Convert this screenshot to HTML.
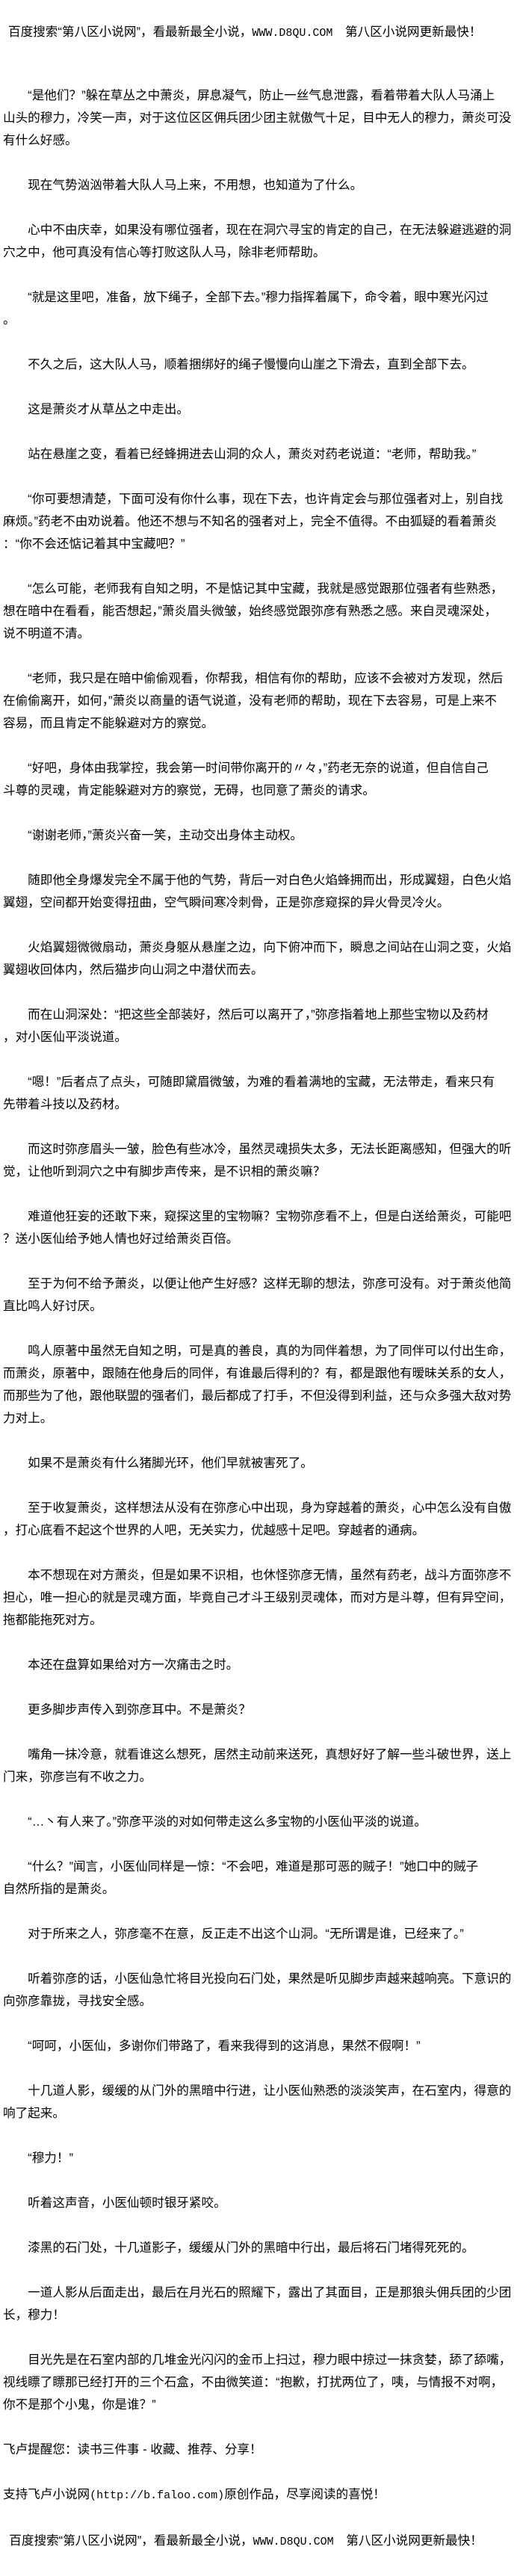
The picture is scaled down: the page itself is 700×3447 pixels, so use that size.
<!DOCTYPE html>
<html>
<head>
<meta charset="utf-8">
<style>
html,body{margin:0;padding:0;background:#fff;}
body{width:700px;height:3440px;position:relative;overflow:hidden;color:#000;
font-family:"Liberation Sans","Noto Sans CJK SC",sans-serif;font-size:16.6px;}
#hdr{position:absolute;top:28px;left:11px;line-height:30px;white-space:nowrap;}
#main{position:absolute;top:113px;left:4px;width:696px;}
p{margin:0 0 30px 0;line-height:30px;white-space:nowrap;}
.m{font-family:"Liberation Mono",monospace;font-size:15px;}
</style>
</head>
<body>
<div id="hdr">百度搜索“第八区小说网”，看最新最全小说，<span class="m">WWW.D8QU.COM</span>　第八区小说网更新最快！</div>
<div id="main">
<p>　　“是他们？”躲在草丛之中萧炎，屏息凝气，防止一丝气息泄露，看着带着大队人马涌上<br>山头的穆力，冷笑一声，对于这位区区佣兵团少团主就傲气十足，目中无人的穆力，萧炎可没<br>有什么好感。</p>
<p>　　现在气势汹汹带着大队人马上来，不用想，也知道为了什么。</p>
<p>　　心中不由庆幸，如果没有哪位强者，现在在洞穴寻宝的肯定的自己，在无法躲避逃避的洞<br>穴之中，他可真没有信心等打败这队人马，除非老师帮助。</p>
<p>　　“就是这里吧，准备，放下绳子，全部下去。”穆力指挥着属下，命令着，眼中寒光闪过<br>。</p>
<p>　　不久之后，这大队人马，顺着捆绑好的绳子慢慢向山崖之下滑去，直到全部下去。</p>
<p>　　这是萧炎才从草丛之中走出。</p>
<p>　　站在悬崖之变，看着已经蜂拥进去山洞的众人，萧炎对药老说道：“老师，帮助我。”</p>
<p>　　“你可要想清楚，下面可没有你什么事，现在下去，也许肯定会与那位强者对上，别自找<br>麻烦。”药老不由劝说着。他还不想与不知名的强者对上，完全不值得。不由狐疑的看着萧炎<br>：“你不会还惦记着其中宝藏吧？”</p>
<p>　　“怎么可能，老师我有自知之明，不是惦记其中宝藏，我就是感觉跟那位强者有些熟悉，<br>想在暗中在看看，能否想起，”萧炎眉头微皱，始终感觉跟弥彦有熟悉之感。来自灵魂深处，<br>说不明道不清。</p>
<p>　　“老师，我只是在暗中偷偷观看，你帮我，相信有你的帮助，应该不会被对方发现，然后<br>在偷偷离开，如何，”萧炎以商量的语气说道，没有老师的帮助，现在下去容易，可是上来不<br>容易，而且肯定不能躲避对方的察觉。</p>
<p>　　“好吧，身体由我掌控，我会第一时间带你离开的〃々，”药老无奈的说道，但自信自己<br>斗尊的灵魂，肯定能躲避对方的察觉，无碍，也同意了萧炎的请求。</p>
<p>　　“谢谢老师，”萧炎兴奋一笑，主动交出身体主动权。</p>
<p>　　随即他全身爆发完全不属于他的气势，背后一对白色火焰蜂拥而出，形成翼翅，白色火焰<br>翼翅，空间都开始变得扭曲，空气瞬间寒冷刺骨，正是弥彦窥探的异火骨灵冷火。</p>
<p>　　火焰翼翅微微扇动，萧炎身躯从悬崖之边，向下俯冲而下，瞬息之间站在山洞之变，火焰<br>翼翅收回体内，然后猫步向山洞之中潜伏而去。</p>
<p>　　而在山洞深处：“把这些全部装好，然后可以离开了，”弥彦指着地上那些宝物以及药材<br>，对小医仙平淡说道。</p>
<p>　　“嗯！”后者点了点头，可随即黛眉微皱，为难的看着满地的宝藏，无法带走，看来只有<br>先带着斗技以及药材。</p>
<p>　　而这时弥彦眉头一皱，脸色有些冰冷，虽然灵魂损失太多，无法长距离感知，但强大的听<br>觉，让他听到洞穴之中有脚步声传来，是不识相的萧炎嘛？</p>
<p>　　难道他狂妄的还敢下来，窥探这里的宝物嘛？宝物弥彦看不上，但是白送给萧炎，可能吧<br>？送小医仙给予她人情也好过给萧炎百倍。</p>
<p>　　至于为何不给予萧炎，以便让他产生好感？这样无聊的想法，弥彦可没有。对于萧炎他简<br>直比鸣人好讨厌。</p>
<p>　　鸣人原著中虽然无自知之明，可是真的善良，真的为同伴着想，为了同伴可以付出生命，<br>而萧炎，原著中，跟随在他身后的同伴，有谁最后得利的？有，都是跟他有暧昧关系的女人，<br>而那些为了他，跟他联盟的强者们，最后都成了打手，不但没得到利益，还与众多强大敌对势<br>力对上。</p>
<p>　　如果不是萧炎有什么猪脚光环，他们早就被害死了。</p>
<p>　　至于收复萧炎，这样想法从没有在弥彦心中出现，身为穿越着的萧炎，心中怎么没有自傲<br>，打心底看不起这个世界的人吧，无关实力，优越感十足吧。穿越者的通病。</p>
<p>　　本不想现在对方萧炎，但是如果不识相，也休怪弥彦无情，虽然有药老，战斗方面弥彦不<br>担心，唯一担心的就是灵魂方面，毕竟自己才斗王级别灵魂体，而对方是斗尊，但有异空间，<br>拖都能拖死对方。</p>
<p>　　本还在盘算如果给对方一次痛击之时。</p>
<p>　　更多脚步声传入到弥彦耳中。不是萧炎？</p>
<p>　　嘴角一抹冷意，就看谁这么想死，居然主动前来送死，真想好好了解一些斗破世界，送上<br>门来，弥彦岂有不收之力。</p>
<p>　　“…丶有人来了。”弥彦平淡的对如何带走这么多宝物的小医仙平淡的说道。</p>
<p>　　“什么？”闻言，小医仙同样是一惊：“不会吧，难道是那可恶的贼子！”她口中的贼子<br>自然所指的是萧炎。</p>
<p>　　对于所来之人，弥彦毫不在意，反正走不出这个山洞。“无所谓是谁，已经来了。”</p>
<p>　　听着弥彦的话，小医仙急忙将目光投向石门处，果然是听见脚步声越来越响亮。下意识的<br>向弥彦靠拢，寻找安全感。</p>
<p>　　“呵呵，小医仙，多谢你们带路了，看来我得到的这消息，果然不假啊！”</p>
<p>　　十几道人影，缓缓的从门外的黑暗中行进，让小医仙熟悉的淡淡笑声，在石室内，得意的<br>响了起来。</p>
<p>　　“穆力！”</p>
<p>　　听着这声音，小医仙顿时银牙紧咬。</p>
<p>　　漆黑的石门处，十几道影子，缓缓从门外的黑暗中行出，最后将石门堵得死死的。</p>
<p>　　一道人影从后面走出，最后在月光石的照耀下，露出了其面目，正是那狼头佣兵团的少团<br>长，穆力！</p>
<p>　　目光先是在石室内部的几堆金光闪闪的金币上扫过，穆力眼中掠过一抹贪婪，舔了舔嘴，<br>视线瞟了瞟那已经打开的三个石盒，不由微笑道：“抱歉，打扰两位了，咦，与情报不对啊，<br>你不是那个小鬼，你是谁？”</p>
<p>飞卢提醒您：读书三件事 - 收藏、推荐、分享！</p>
<p>支持飞卢小说网<span class="m">(http://b.faloo.com)</span>原创作品，尽享阅读的喜悦！</p>
<p>&#8194;百度搜索“第八区小说网”，看最新最全小说，<span class="m">WWW.D8QU.COM</span>　第八区小说网更新最快！</p>
</div>
</body>
</html>
